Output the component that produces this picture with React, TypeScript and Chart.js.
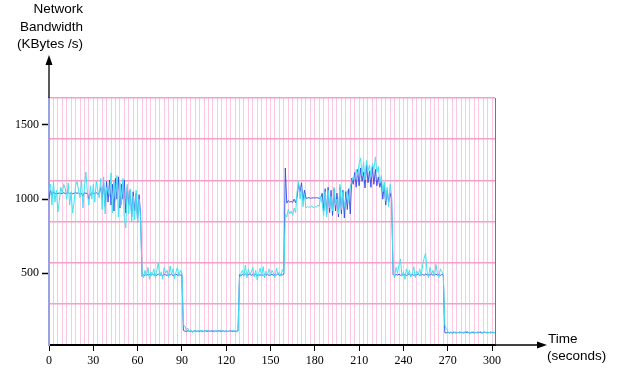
import { useEffect, useRef } from "react";
import { Chart, registerables } from "chart.js";

Chart.register(...registerables);

// ---- data ----
const sampleStart = 0; // seconds
const sampleStep = 1; // seconds between samples

const blueSeries = [
  1000, 1060, 1025, 1050, 1035, 1040, 1038, 1042, 1036, 1040,
  1043, 1037, 1040, 1045, 1038, 1041, 1036, 1040, 1044, 1039,
  1042, 1035, 1040, 1020, 1045, 1038, 1040, 1000, 1035, 1042,
  1038, 1040, 1044, 1036, 1040, 1080, 1000, 1110, 950, 1120,
  980, 1129, 960, 1100, 920, 1140, 1000, 1150, 940, 1100,
  1000, 1130, 906, 1080, 960, 1060, 880, 1050, 920, 1040,
  850, 1030, 900, 480, 490, 485, 495, 488, 492, 486,
  494, 488, 490, 485, 496, 487, 491, 484, 493, 489,
  486, 492, 488, 495, 483, 490, 494, 487, 491, 488,
  490, 115, 110, 108, 112, 109, 111, 107, 110, 112,
  108, 111, 109, 113, 107, 110, 112, 108, 111, 109,
  112, 108, 110, 111, 109, 113, 108, 110, 112, 109,
  111, 108, 110, 112, 109, 111, 108, 110, 112, 490,
  485, 492, 488, 495, 486, 490, 493, 487, 491, 489,
  494, 486, 490, 488, 492, 485, 495, 489, 491, 487,
  490, 493, 486, 492, 488, 495, 487, 491, 489, 494,
  1210, 973, 990, 980, 985, 978, 1000, 975, 1020, 1100,
  1050, 1110, 990, 1060, 1005, 1008, 1010, 1006, 1008, 1009,
  1007, 1010, 1008, 1006, 1010, 1040, 920, 1070, 900, 1080,
  910, 1060, 890, 1070, 920, 1040, 880, 1080, 900, 1060,
  873, 1050, 930, 1070, 900, 1142, 1100, 1180, 1080, 1200,
  1090, 1210, 1120, 1180, 1075, 1230, 1110, 1190, 1080, 1220,
  1100, 1200, 1090, 1150, 1080, 1120, 1000, 1090, 960, 1060,
  980, 1040, 1000, 490, 486, 492, 488, 494, 487, 491,
  489, 493, 485, 490, 495, 488, 492, 486, 491, 489,
  494, 487, 490, 492, 486, 495, 488, 491, 489, 493,
  487, 490, 494, 488, 491, 486, 492, 489, 100, 98,
  102, 99, 101, 97, 100, 103, 98, 101, 99, 102,
  100, 98, 103, 99, 101, 97, 102, 100, 98, 101,
  99, 102, 100, 98, 101, 103, 99, 100, 102, 98,
  101, 99, 100,
];

const cyanSeries = [
  1050, 1100, 960, 1120, 980, 1060, 913, 990, 1080, 1040,
  1100, 1070, 1000, 1110, 960, 1050, 906, 980, 1090, 1120,
  1060, 1010, 1130, 940, 1080, 1183, 1040, 960, 1090, 1000,
  1100, 980, 1120, 1060, 1010, 1140, 930, 1150, 900, 1080,
  1060, 1020, 1177, 910, 1120, 990, 1160, 880, 1110, 960,
  1140, 870, 806, 1100, 900, 1070, 850, 1020, 860, 1060,
  840, 1000, 870, 500, 470, 520, 480, 540, 460, 510,
  490, 530, 470, 520, 570, 480, 510, 460, 540, 500,
  520, 470, 550, 490, 530, 465, 510, 540, 480, 520,
  500, 150, 145, 115, 130, 105, 120, 100, 115, 108,
  112, 105, 118, 108, 115, 104, 110, 116, 106, 112,
  108, 118, 104, 113, 110, 106, 119, 108, 112, 105,
  114, 107, 111, 105, 116, 109, 112, 106, 110, 470,
  500, 520, 480, 556, 470, 530, 490, 510, 540, 475,
  520, 455, 500, 535, 480, 545, 470, 515, 490, 530,
  485, 520, 500, 470, 535, 490, 510, 480, 525, 500,
  900, 880, 930, 900, 920, 890, 940, 910, 1050, 1118,
  1000, 1080, 950, 1030, 940, 950, 945, 948, 955, 940,
  950, 945, 960, 952, 1020, 970, 890, 1050, 880, 1060,
  940, 1020, 920, 1080, 960, 1000, 900, 1100, 930, 1050,
  950, 1000, 1060, 980, 1080, 1120, 1150, 1130, 1200, 1160,
  1240, 1278, 1160, 1250, 1130, 1260, 1190, 1230, 1150, 1240,
  1200, 1285, 1180, 1220, 1110, 1160, 1050, 1115, 990, 1080,
  950, 1100, 1020, 520, 470, 540, 500, 560, 597, 480,
  510, 460, 530, 490, 520, 475, 500, 545, 470, 515,
  490, 530, 480, 560, 600, 637, 510, 470, 540, 495,
  520, 480, 560, 500, 470, 530, 510, 490, 150, 130,
  110, 95, 105, 100, 108, 96, 104, 99, 107, 101,
  97, 106, 100, 110, 98, 104, 95, 108, 102, 99,
  105, 97, 109, 101, 96, 106, 100, 104, 98, 107,
  100, 104, 98,
];

const xTickLabels = [0, 30, 60, 90, 120, 150, 180, 210, 240, 270, 300];
const yTickLabels = [500, 1000, 1500];
const yTitleLines = ["Network", "Bandwidth", "(KBytes /s)"];
const xTitleLines = ["Time", "(seconds)"];

const X_MIN = 0;
const X_MAX = 302;
const Y_MIN = 16.5;
const Y_MAX = 1682;
const V_GRID_STEP = 3;
const H_GRID_DIVS = 6;

const SERIF = "'Liberation Serif', 'Times New Roman', Times, serif";

const toPoints = (vals: number[]) =>
  vals.map((v, i) => ({ x: sampleStart + i * sampleStep, y: v }));

const decorPlugin = {
  id: "decor",
  afterDraw(chart: any) {
    const { ctx, chartArea: a } = chart;
    ctx.save();
    // right border
    ctx.strokeStyle = "#777";
    ctx.lineWidth = 1;
    ctx.beginPath();
    ctx.moveTo(a.right + 0.5, a.top);
    ctx.lineTo(a.right + 0.5, a.bottom);
    ctx.stroke();
    // y arrow
    ctx.strokeStyle = "#000";
    ctx.fillStyle = "#000";
    ctx.lineWidth = 1.3;
    ctx.beginPath();
    ctx.moveTo(a.left, a.top);
    ctx.lineTo(a.left, 63);
    ctx.stroke();
    ctx.beginPath();
    ctx.moveTo(a.left, 55);
    ctx.lineTo(a.left - 3.5, 65);
    ctx.lineTo(a.left + 3.5, 65);
    ctx.closePath();
    ctx.fill();
    // x arrow
    ctx.beginPath();
    ctx.moveTo(a.right, a.bottom);
    ctx.lineTo(539, a.bottom);
    ctx.stroke();
    ctx.beginPath();
    ctx.moveTo(547, a.bottom);
    ctx.lineTo(537, a.bottom - 3.5);
    ctx.lineTo(537, a.bottom + 3.5);
    ctx.closePath();
    ctx.fill();
    // titles
    ctx.font = "13.5px 'Liberation Sans', Arial, sans-serif";
    ctx.textBaseline = "alphabetic";
    ctx.textAlign = "right";
    const yBase = [13, 30.5, 47.5];
    yTitleLines.forEach((t, i) => ctx.fillText(t, 83, yBase[i]));
    ctx.textAlign = "left";
    const xBase = [343, 360];
    const xLeft = [548, 547];
    xTitleLines.forEach((t, i) => ctx.fillText(t, xLeft[i], xBase[i]));
    ctx.restore();
  },
};

export default function App() {
  const ref = useRef<HTMLCanvasElement | null>(null);

  useEffect(() => {
    if (!ref.current) return;
    const tickFont = { family: SERIF, size: 12 };
    const chart = new Chart(ref.current, {
      type: "line",
      data: {
        datasets: [
          {
            label: "cyan",
            data: toPoints(cyanSeries),
            borderColor: "rgb(70,225,240)",
            borderWidth: 1,
            pointRadius: 0,
            tension: 0,
          },
          {
            label: "blue",
            data: toPoints(blueSeries),
            borderColor: "rgba(45,75,232,0.9)",
            borderWidth: 1,
            pointRadius: 0,
            tension: 0,
          },
        ],
      },
      options: {
        animation: false,
        responsive: false,
        events: [],
        layout: { padding: 0 },
        plugins: { legend: { display: false }, tooltip: { enabled: false } },
        scales: {
          x: {
            type: "linear",
            position: "bottom",
            min: X_MIN,
            max: X_MAX,
            afterBuildTicks: (s: any) => {
              s.ticks = xTickLabels.map((v) => ({ value: v }));
            },
            afterFit: (s: any) => {
              s.height = 25;
            },
            grid: {
              drawOnChartArea: false,
              drawTicks: true,
              tickLength: 6,
              tickColor: "#000",
              tickWidth: 1,
            },
            border: { display: true, color: "#000", width: 2 },
            ticks: {
              font: tickFont,
              color: "#000",
              padding: 3,
              maxRotation: 0,
              autoSkip: false,
              callback: (v: any) => String(v),
            },
          },
          xg: {
            type: "linear",
            position: "top",
            min: X_MIN,
            max: X_MAX,
            afterBuildTicks: (s: any) => {
              const t = [];
              for (let v = X_MIN; v <= X_MAX; v += V_GRID_STEP) t.push({ value: v });
              s.ticks = t;
            },
            afterFit: (s: any) => {
              s.height = 98;
            },
            grid: { color: "rgb(250,200,225)", lineWidth: 1, drawTicks: false },
            border: { display: false },
            ticks: { display: false },
          },
          y: {
            type: "linear",
            position: "left",
            min: Y_MIN,
            max: Y_MAX,
            afterBuildTicks: (s: any) => {
              s.ticks = yTickLabels.map((v) => ({ value: v }));
            },
            afterFit: (s: any) => {
              s.width = 49;
            },
            grid: {
              drawOnChartArea: false,
              drawTicks: true,
              tickLength: 7,
              tickColor: "#000",
              tickWidth: 1.5,
            },
            border: { display: true, color: "#9aa0e0", width: 2 },
            ticks: {
              font: tickFont,
              color: "#000",
              padding: 3,
              callback: (v: any) => String(v),
            },
          },
          yg: {
            type: "linear",
            position: "right",
            min: 0,
            max: H_GRID_DIVS,
            afterBuildTicks: (s: any) => {
              const t = [];
              for (let v = 0; v <= H_GRID_DIVS; v++) t.push({ value: v });
              s.ticks = t;
            },
            afterFit: (s: any) => {
              s.width = 128;
            },
            grid: { color: "rgb(245,160,200)", lineWidth: 1.5, drawTicks: false },
            border: { display: false },
            ticks: { display: false },
          },
        },
      } as any,
      plugins: [decorPlugin],
    });
    return () => chart.destroy();
  }, []);

  return (
    <div style={{ position: "absolute", left: 0, top: 0, width: 623, height: 370, background: "#fff" }}>
      <canvas ref={ref} width={623} height={370} style={{ display: "block" }} />
    </div>
  );
}
